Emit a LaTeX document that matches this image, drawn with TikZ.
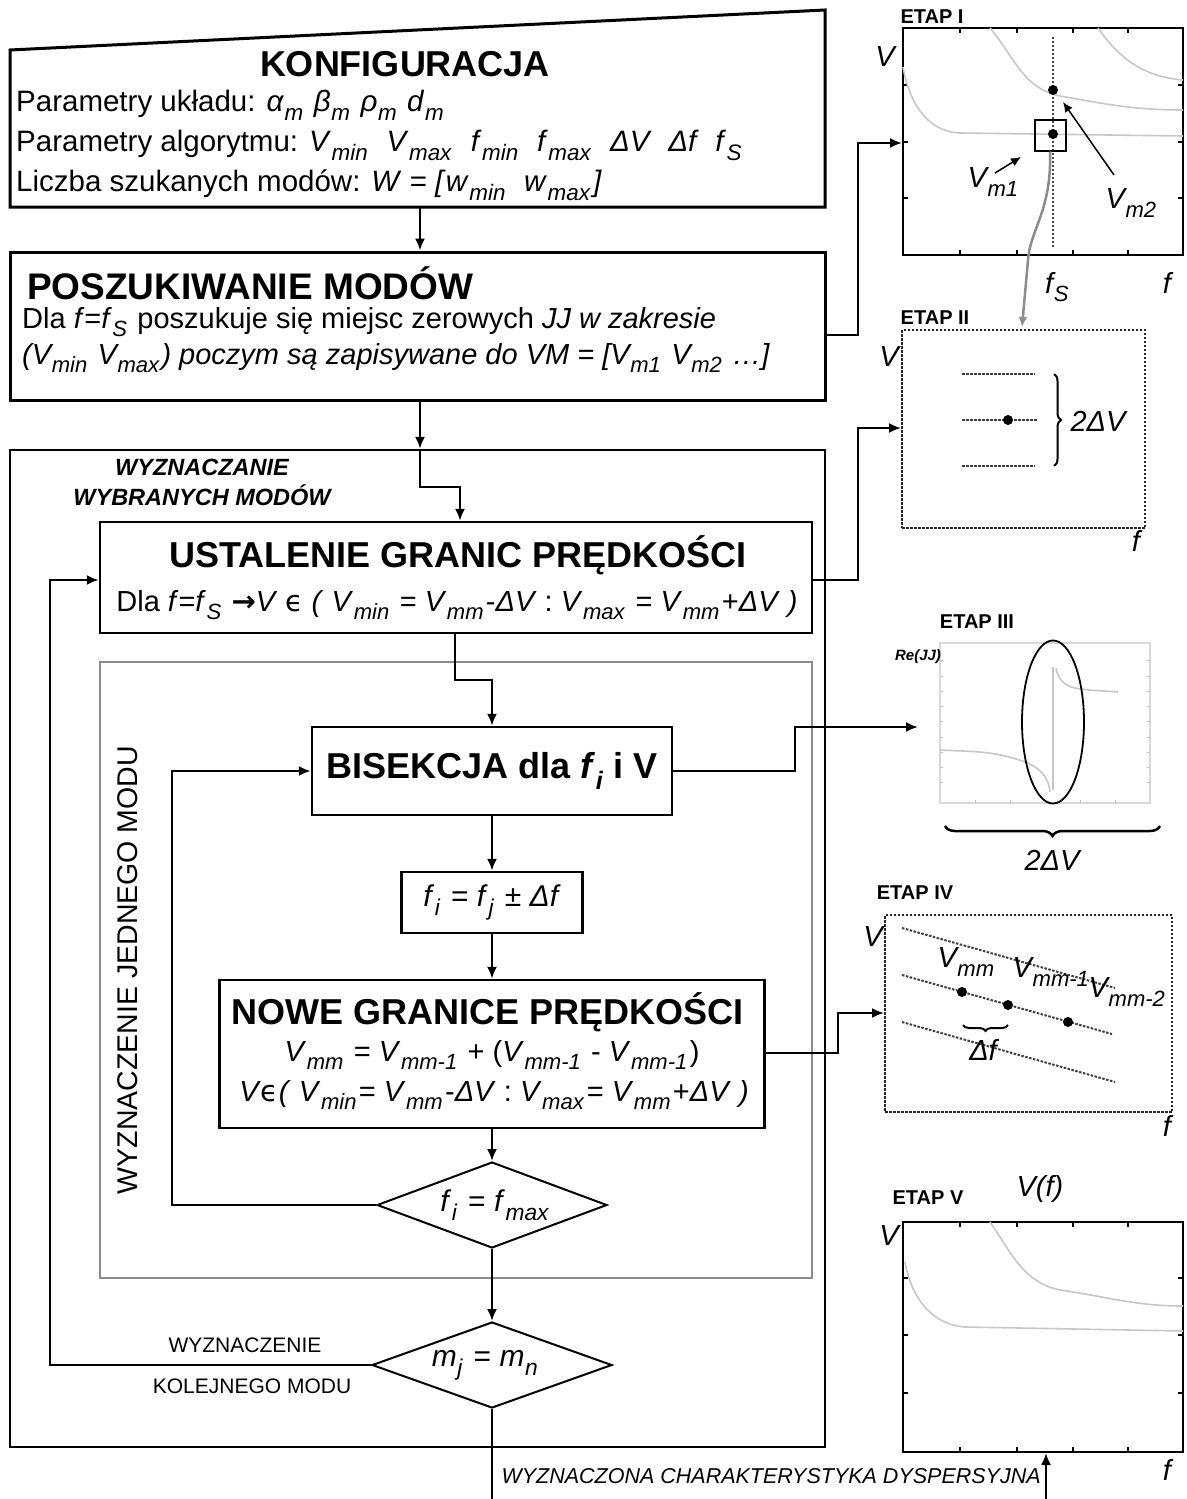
\documentclass[tikz,border=0pt]{standalone}
\usepackage{fontspec}
\setmainfont{Liberation Sans}
\newfontfamily\dvfont{DejaVu Sans}
\usetikzlibrary{arrows.meta,shapes.geometric,decorations.pathreplacing,calc}
\newcommand\iv[2]{\textit{#1}\kern0.02em\relax\raisebox{-0.3em}{\scalebox{0.76}{\textit{#2}}}\kern0.08em\relax}
\newcommand\fsz[2]{\fontsize{#1}{#2}\selectfont}
\tikzset{
  box/.style={draw, line width=2.5pt, inner sep=0pt},
  arr/.style={line width=2pt, -{Latex[length=12pt,width=10pt]}},
  ln/.style={line width=2pt},
  ttl/.style={font=\bfseries\fsz{36}{40}},
  body/.style={font=\fsz{30}{40}},
  etap/.style={font=\bfseries\fsz{20}{22}},
  axl/.style={font=\itshape\fsz{29}{30}},
  plotbox/.style={draw, line width=2pt, inner sep=0pt},
  dotbox/.style={draw=black!85, line width=2pt, dash pattern=on 2.5pt off 1.5pt, inner sep=0pt},
  curve/.style={draw=black!22, line width=1.6pt},
  dotl/.style={draw=black!75, line width=2pt, dash pattern=on 2.5pt off 1.5pt},
  pt/.style={circle, fill, inner sep=0pt, minimum size=10pt}
}
\begin{document}
\begin{tikzpicture}[x=1pt,y=-1pt]
\fill[white] (0,0) rectangle (1186,1499);
\useasboundingbox (0,0) rectangle (1186,1499);

% ---------------- KONFIGURACJA
\draw[line width=3pt] (10,50) -- (825,10) -- (825,207) -- (10,207) -- cycle;
\coordinate (konfS) at (420,207);
\node[ttl] (konfT) at (405,64) {KONFIGURACJA};
\node[font=\fsz{29.5}{40}, anchor=west, align=left, inner sep=0pt] (konfB) at (16,145) {%
Parametry układu: \iv{α}{m} \iv{β}{m} \iv{ρ}{m} \iv{d}{m}\\
Parametry algorytmu: \iv{V}{min} \ \iv{V}{max} \ \iv{f}{min} \ \iv{f}{max} \ \textit{ΔV} \ \textit{Δf} \ \iv{f}{S}\\
Liczba szukanych modów: \textit{W} = \textit{[}\iv{w}{min} \ \iv{w}{max}\textit{]}};

% ---------------- POSZUKIWANIE
\node[box, line width=3pt, minimum width=815pt, minimum height=148pt] (posz) at (417.5,326) {};
\node[ttl, font=\bfseries\fsz{37}{40}, anchor=west, inner sep=0pt] (poszT) at (27,283) {POSZUKIWANIE MODÓW};
\node[font=\fsz{29}{36}, anchor=west, align=left, inner sep=0pt] (poszB) at (22,340) {%
Dla \textit{f}=\iv{f}{S} poszukuje się miejsc zerowych \textit{JJ w zakresie}\\
\textit{(\iv{V}{min} \iv{V}{max}) poczym są zapisywane do VM = [\iv{V}{m1} \iv{V}{m2} …]}};

% ---------------- outer block
\node[box, minimum width=815pt, minimum height=997pt] (outer) at (417.5,948.5) {};
\node[font=\bfseries\itshape\fsz{23.5}{30}, align=center] (outT) at (202,482) {WYZNACZANIE\\WYBRANYCH MODÓW};

% ---------------- USTALENIE
\node[box, minimum width=712pt, minimum height=111pt] (ust) at (456,577.5) {};
\node[ttl] (ustT) at (458,555) {USTALENIE GRANIC PRĘDKOŚCI};
\node[font=\fsz{29}{40}] (ustB) at (457,605) {Dla \textit{f}=\iv{f}{S} {\dvfont\bfseries →}\textit{V} {\dvfont ϵ} \textit{(} \iv{V}{min} = \iv{V}{mm}-\textit{ΔV} : \iv{V}{max} = \iv{V}{mm}+\textit{ΔV} \textit{)}};

% ---------------- inner block
\node[draw=black!45, line width=2pt, minimum width=712pt, minimum height=616pt, inner sep=0pt] (inner) at (456,970) {};
\node[font=\fsz{28.5}{30}, rotate=90] (innerT) at (128,970) {WYZNACZENIE JEDNEGO MODU};

% ---------------- BISEKCJA
\node[box, ttl, minimum width=360pt, minimum height=88pt] (bis) at (492,771) {BISEKCJA dla \textit{f}\raisebox{-0.3em}{\scalebox{0.7}{\textit{i}}} i V};

% ---------------- f_i
\node[box, body, minimum width=181pt, minimum height=61pt] (fi) at (492,902.5) {\iv{f}{i} = \iv{f}{j} ± \textit{Δf}};

% ---------------- NOWE GRANICE
\node[box, minimum width=545pt, minimum height=148pt] (nowe) at (492,1054) {};
\node[ttl] (noweT) at (488,1012) {NOWE GRANICE PRĘDKOŚCI};
\node[font=\fsz{29}{40}] (noweB1) at (492,1055) {\iv{V}{mm} = \iv{V}{mm-1} + (\iv{V}{mm-1} - \iv{V}{mm-1})};
\node[font=\fsz{29}{40}] (noweB2) at (494,1095) {\textit{V}{\dvfont ϵ}\textit{(} \iv{V}{min}= \iv{V}{mm}-\textit{ΔV} : \iv{V}{max}= \iv{V}{mm}+\textit{ΔV} \textit{)}};

% ---------------- decisions
\node[draw, diamond, line width=2pt, minimum width=230pt, minimum height=86pt, inner sep=0pt] (d1) at (492,1205) {};
\node[body] (d1t) at (496,1205) {\iv{f}{i} = \iv{f}{max}};
\node[draw, diamond, line width=2pt, minimum width=240pt, minimum height=86pt, inner sep=0pt] (d2) at (492,1365) {};
\node[body] (d2t) at (486,1365) {\iv{m}{j} = \iv{m}{n}};
\node[font=\fsz{21}{22}] (kolA) at (245,1345) {WYZNACZENIE};
\node[font=\fsz{21}{22}] (kolB) at (252,1386) {KOLEJNEGO MODU};
\node[font=\itshape\fsz{21.5}{22}, anchor=west] (wynik) at (498,1476) {WYZNACZONA CHARAKTERYSTYKA DYSPERSYJNA};

% ---------------- plot frames
\node[plotbox, minimum width=280pt, minimum height=227pt] (e1) at (1043,141.5) {};
\node[dotbox, minimum width=243pt, minimum height=198pt] (e2) at (1023.5,429) {};
\node[draw=black!15, line width=1.2pt, minimum width=210pt, minimum height=160pt, inner sep=0pt] (e3) at (1045,723) {};
\node[dotbox, minimum width=287pt, minimum height=197pt] (e4) at (1028.5,1013.5) {};
\node[plotbox, minimum width=280pt, minimum height=230pt] (e5) at (1043,1337) {};

% ---------------- connectors (flow)
\draw[arr] (konfS) -- (konfS |- posz.north);
\draw[arr] (konfS |- posz.south) -- (konfS |- outer.north);
\coordinate (j1) at (420,487);
\coordinate (j2) at (460,487);
\draw[arr] (konfS |- outer.north) -- (j1) -- (j2) -- (j2 |- ust.north);
\coordinate (r1) at (858,335);
\coordinate (r2) at (858,143);
\draw[arr] (posz.east |- r1) -- (r1) -- (r2) -- (r2 -| e1.west);
\coordinate (u1) at (858,580);
\coordinate (u2) at (858,428);
\draw[arr] (ust.east |- u1) -- (u1) -- (u2) -- (u2 -| e2.west);
\coordinate (u3) at (455,680);
\coordinate (u4) at (492,680);
\draw[arr] (u3 |- ust.south) -- (u3) -- (u4) -- (u4 |- bis.north);
\coordinate (b1) at (795,771);
\coordinate (b2) at (795,727);
\coordinate (b3) at (918,727);
\draw[arr] (bis.east) -- (b1) -- (b2) -- (b3);
\draw[arr] (bis.south) -- (fi.north);
\draw[arr] (fi.south) -- (nowe.north);
\coordinate (n1) at (838,1053);
\coordinate (n2) at (838,1013);
\draw[arr] (nowe.east |- n1) -- (n1) -- (n2) -- (n2 -| e4.west);
\draw[arr] (nowe.south) -- (d1.north);
\coordinate (l1) at (172,1205);
\coordinate (l2) at (172,771);
\draw[arr] (d1.west) -- (l1) -- (l2) -- (bis.west);
\draw[arr] (d1.south) -- (d2.north);
\coordinate (m1) at (50,1365);
\coordinate (m2) at (50,580);
\draw[arr] (d2.west) -- (m1) -- (m2) -- (m2 -| ust.west);
\coordinate (outEnd) at (492,1499);
\draw[ln] (d2.south) -- (outEnd);
\coordinate (vf) at (1046,1499);
\draw[arr] (vf) -- (vf |- e5.south);

% ---------------- ETAP I
\node[etap] (e1L) at (932,17) {ETAP I};
\node[axl] (e1V) at (885,57) {V};
\node[axl] (e1fs) at (1058,287) {\iv{f}{S}};
\node[axl] (e1f) at (1167,283) {f};
\foreach \yy in {85,142,198} {\draw[line width=1.5pt] (903,\yy) -- (908,\yy); \draw[line width=1.5pt] (1183,\yy) -- (1178,\yy);}
\foreach \xx in {960,1017,1073,1128} {\draw[line width=1.5pt] (\xx,255) -- (\xx,250); \draw[line width=1.5pt] (\xx,28) -- (\xx,33);}
\draw[curve] (903,67) to[out=-80,in=178] (960,133) -- (1183,136);
\draw[curve] (990,28) to[out=-50,in=168] (1060,96) to[out=-10,in=180] (1183,110);
\draw[curve] (1098,28) to[out=-55,in=175] (1183,80);
\draw[black!70, line width=1.5pt, dash pattern=on 2pt off 2pt] (1053,37) -- (1053,248);
\node[pt] (p1) at (1053,90) {};
\node[pt] (p2) at (1053,134) {};
\node[draw, line width=2pt, minimum size=31pt, inner sep=0pt] (sq) at (1050,135) {};
\node[axl] (vm1) at (994,182) {\iv{V}{m1}};
\node[axl] (vm2) at (1132,203) {\iv{V}{m2}};
\coordinate (a1s) at (995,173);
\coordinate (a1e) at (1021,157);
\draw[line width=1.5pt, -{Latex[length=10pt,width=9pt]}] (a1s) -- (a1e);
\coordinate (a2s) at (1114,175);
\coordinate (a2e) at (1063,102);
\draw[line width=1.5pt, -{Latex[length=10pt,width=9pt]}] (a2s) -- (a2e);
\coordinate (g1) at (1022,327);
\draw[black!45, line width=2.5pt, -{Latex[length=10pt,width=9pt]}] (sq.south) .. controls (1052,210) and (1030,230) .. (1028,260) -- (g1);

% ---------------- ETAP II
\node[etap] (e2L) at (935,318) {ETAP II};
\node[axl] (e2V) at (889,357) {V};
\node[axl] (e2f) at (1136,541) {f};
\draw[dotl] (962,374) -- (1035,374);
\draw[dotl] (962,420) -- (1037,420);
\draw[dotl] (962,466) -- (1035,466);
\node[pt] (p3) at (1008,420) {};
\draw[line width=2pt, decorate, decoration={brace, amplitude=7pt}] (1054,374) -- (1054,466);
\node[axl] (e2d) at (1098,421) {2\textit{Δ}V};

% ---------------- ETAP III
\node[etap] (e3L) at (977,622) {ETAP III};
\node[font=\bfseries\itshape\fsz{15}{16}] (e3R) at (918,657) {Re(JJ)};
\foreach \yy in {660,676,691,706,721,737,752,767,782} {\draw[black!25] (940,\yy) -- (943,\yy); \draw[black!25] (1150,\yy) -- (1147,\yy);}
\foreach \xx in {975,1010,1045,1080,1115} {\draw[black!25] (\xx,803) -- (\xx,800);}
\draw[curve] (940,750) to[out=-3,in=160] (1025,762) to[out=-20,in=95] (1050,792);
\draw[curve] (1053,790) -- (1053,667);
\draw[curve] (1056,668) to[out=-80,in=170] (1075,688) to[out=-10,in=175] (1118,692);
\node[draw, ellipse, line width=1.8pt, minimum width=62pt, minimum height=163pt, inner sep=0pt] (ell) at (1053,722) {};
\draw[line width=2.5pt, decorate, decoration={brace, amplitude=10pt, mirror}] (945,826) -- (1160,826);
\node[axl] (e3d) at (1052,860) {2\textit{Δ}V};

% ---------------- ETAP IV
\node[etap] (e4L) at (915,893) {ETAP IV};
\node[axl] (e4V) at (873,937) {V};
\node[axl] (e4f) at (1167,1126) {f};
\draw[dotl] (902,928) -- (1115,988);
\draw[dotl] (902,975) -- (1112,1034);
\draw[dotl] (902,1022) -- (1115,1082);
\node[pt] (p4) at (962,992) {};
\node[pt] (p5) at (1008,1005) {};
\node[pt] (p6) at (1068,1022) {};
\node[axl] (v0) at (967,962) {\iv{V}{mm}};
\node[axl] (v1) at (1052,972) {\iv{V}{mm-1}};
\node[axl] (v2) at (1128,992) {\iv{V}{mm-2}};
\draw[line width=2pt, decorate, decoration={brace, amplitude=6pt, mirror}] (963,1025) -- (1008,1025);
\node[axl] (e4d) at (983,1050) {\textit{Δf}};

% ---------------- ETAP V
\node[etap] (e5L) at (928,1198) {ETAP V};
\node[axl] (e5vf) at (1040,1189) {V(f)};
\node[axl] (e5V) at (889,1236) {V};
\node[axl] (e5f) at (1167,1470) {f};
\foreach \yy in {1278,1335,1393} {\draw[line width=1.5pt] (903,\yy) -- (908,\yy); \draw[line width=1.5pt] (1183,\yy) -- (1178,\yy);}
\foreach \xx in {960,1017,1073,1128} {\draw[line width=1.5pt] (\xx,1452) -- (\xx,1447); \draw[line width=1.5pt] (\xx,1222) -- (\xx,1227);}
\draw[curve] (905,1262) to[out=-80,in=176] (965,1327) -- (1183,1331);
\draw[curve] (990,1222) to[out=-55,in=168] (1060,1290) to[out=-8,in=180] (1183,1306);
\end{tikzpicture}
\end{document}
